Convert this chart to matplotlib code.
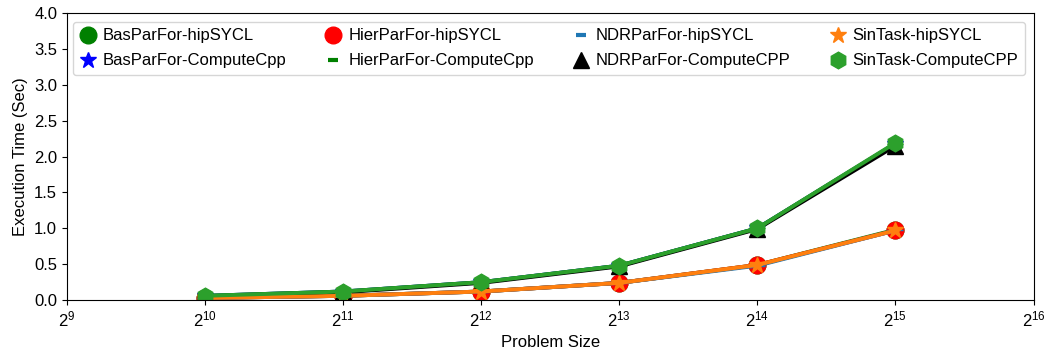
import matplotlib
matplotlib.use('Agg')
import matplotlib.pyplot as plt
from matplotlib.lines import Line2D

plt.rcParams['font.family'] = ['Liberation Sans', 'DejaVu Sans']

# problem sizes (powers of two)
sizes = [2**10, 2**11, 2**12, 2**13, 2**14, 2**15]

labels = ['BasParFor-hipSYCL', 'BasParFor-ComputeCpp',
          'HierParFor-hipSYCL', 'HierParFor-ComputeCpp',
          'NDRParFor-hipSYCL', 'NDRParFor-ComputeCPP',
          'SinTask-hipSYCL', 'SinTask-ComputeCPP']

bas_hip = [0.03, 0.06, 0.12, 0.24, 0.49, 0.98]
bas_ccp = [0.06, 0.12, 0.25, 0.48, 1.00, 2.18]
hier_hip = [0.03, 0.06, 0.12, 0.24, 0.49, 0.97]
hier_ccp = [0.06, 0.12, 0.25, 0.48, 1.00, 2.18]
ndr_hip = [0.03, 0.06, 0.12, 0.24, 0.48, 0.97]
ndr_ccp = [0.05, 0.11, 0.24, 0.47, 0.99, 2.15]
sin_hip = [0.03, 0.06, 0.12, 0.24, 0.49, 0.97]
sin_ccp = [0.06, 0.12, 0.25, 0.48, 1.00, 2.19]

series = [bas_hip, bas_ccp, hier_hip, hier_ccp, ndr_hip, ndr_ccp, sin_hip, sin_ccp]
colors = ['green', 'blue', 'red', 'green', 'tab:blue', 'black', 'tab:orange', 'tab:green']
markers = ['o', '*', 'o', '_', '_', '^', '*', 'h']

fig, ax = plt.subplots(figsize=(10.45, 3.49), dpi=100)
fig.subplots_adjust(left=0.064, right=0.989, top=0.963, bottom=0.14)

for y, c, m in zip(series, colors, markers):
    ax.plot(sizes, y, color=c, marker=m, markersize=12, linewidth=2.8)

handles = []
for c, m in zip(colors, markers):
    if m == '_':
        h = Line2D([], [], color=c, marker=m, linestyle='none', markersize=7, markeredgewidth=3)
    else:
        h = Line2D([], [], color=c, marker=m, linestyle='none', markersize=12)
    handles.append(h)
ax.legend(handles, labels, ncol=4, loc='upper left', mode='expand',
          bbox_to_anchor=(0.0062, 0.969, 0.985, 0.0), borderaxespad=0, fontsize=12,
          handlelength=1.0, handletextpad=0.4, labelspacing=0.6)

ax.set_xscale('log', base=2)
ax.set_xlim(2**9, 2**16)
ax.set_xticks([2**k for k in range(9, 17)])
ax.set_ylim(0, 4.0)
ax.set_yticks([0.0, 0.5, 1.0, 1.5, 2.0, 2.5, 3.0, 3.5, 4.0])
ax.tick_params(labelsize=12)
ax.set_xlabel('Problem Size', fontsize=12)
ax.set_ylabel('Execution Time (Sec)', fontsize=12)

fig.savefig('out.png')
